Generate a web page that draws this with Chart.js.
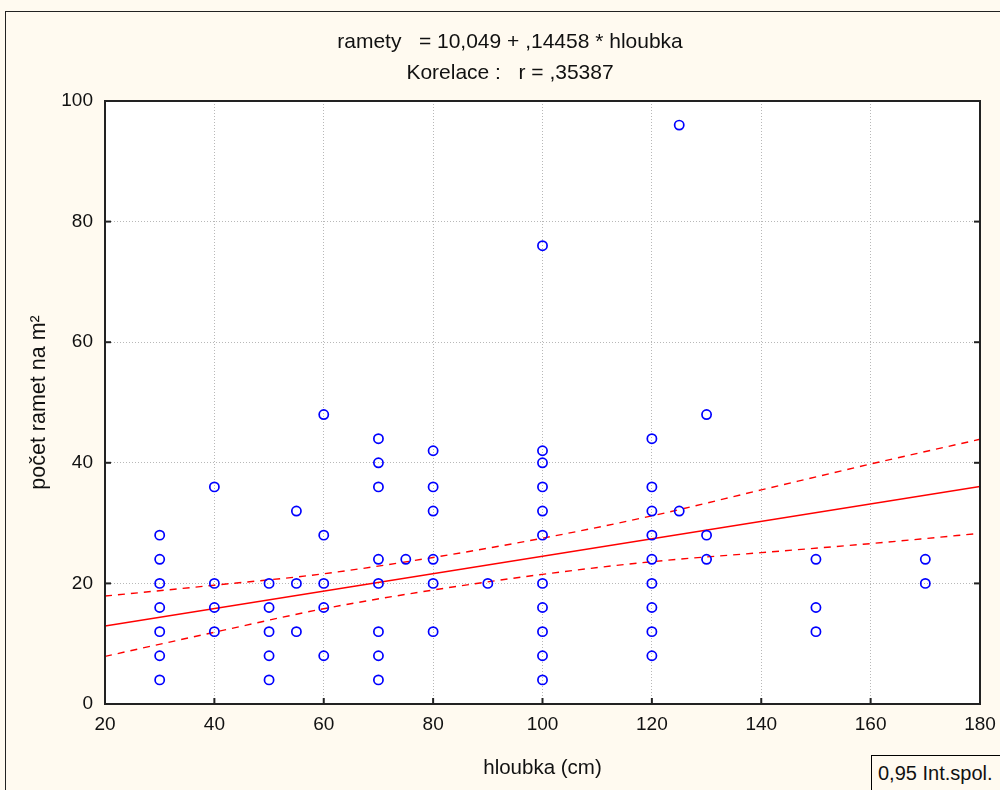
<!DOCTYPE html>
<html><head><meta charset="utf-8">
<script src="https://cdn.jsdelivr.net/npm/chart.js@4.4.1/dist/chart.umd.min.js"></script>
<style>
html,body{margin:0;padding:0;background:#FFFAF0;}
#wrap{position:relative;width:1000px;height:790px;overflow:hidden;background:#FFFAF0;}
#frame{position:absolute;left:5px;top:11px;width:1100px;height:900px;border:1px solid #222;box-sizing:border-box;}
#c{position:absolute;left:0;top:0;}
#leg{position:absolute;left:871px;top:755px;width:200px;height:60px;border:1px solid #000;box-sizing:border-box;font:20px "Liberation Sans",Arial,sans-serif;color:#111;padding:6px 0 0 6px;background:#FFFAF0;}
</style></head>
<body>
<div id="wrap">
<div id="frame"></div>
<canvas id="c" width="1000" height="790"></canvas>
<div id="leg">0,95 Int.spol.</div>
</div>
<script>
// ---- data ----
const hloubka = [30,30,30,30,30,30,30, 40,40,40,40, 50,50,50,50,50, 55,55,55, 60,60,60,60,60,
  70,70,70,70,70,70,70,70, 75, 80,80,80,80,80,80, 90,
  100,100,100,100,100,100,100,100,100,100,100,
  120,120,120,120,120,120,120,120,120, 125,125, 130,130,130, 150,150,150, 170,170];
const ramety = [28,24,20,16,12,8,4, 36,20,16,12, 20,16,12,8,4, 32,20,12, 48,28,20,16,8,
  44,40,36,24,20,12,8,4, 24, 42,36,32,24,20,12, 20,
  76,42,40,36,32,28,20,16,12,8,4,
  44,36,32,28,24,20,16,12,8, 96,32, 48,28,24, 24,16,12, 24,20];
const fitX = [20, 180];
const fitY = [12.94, 36.07];
const bandX = [20, 40, 60, 80, 100, 120, 140, 160, 180];
const bandUpper = [17.9, 19.7, 21.6, 24.3, 27.5, 31.2, 35.5, 39.8, 43.9];
const bandLower = [7.9, 11.9, 15.8, 18.9, 21.5, 23.6, 25.1, 26.6, 28.3];
const xTicks = [20, 40, 60, 80, 100, 120, 140, 160, 180];
const yTicks = [0, 20, 40, 60, 80, 100];
const titleLines = ['ramety   = 10,049 + ,14458 * hloubka', 'Korelace :   r = ,35387'];
const xTitle = 'hloubka (cm)';
const yTitle = 'počet ramet na m²';

const FONT = '"Liberation Sans", Arial, sans-serif';
const pts = hloubka.map((x, i) => ({x: x, y: ramety[i]}));
const fit = fitX.map((x, i) => ({x: x, y: fitY[i]}));
const up = bandX.map((x, i) => ({x: x, y: bandUpper[i]}));
const lo = bandX.map((x, i) => ({x: x, y: bandLower[i]}));

const deco = {
  id: 'deco',
  beforeDraw(chart) {
    const {ctx, chartArea: a} = chart;
    ctx.save();
    ctx.fillStyle = '#ffffff';
    ctx.fillRect(a.left, a.top, a.right - a.left, a.bottom - a.top);
    ctx.restore();
  },
  afterDraw(chart) {
    const {ctx, chartArea: a, scales} = chart;
    ctx.save();
    ctx.fillStyle = '#111';
    ctx.font = '21px ' + FONT;
    ctx.textAlign = 'center';
    ctx.textBaseline = 'middle';
    ctx.fillText(titleLines[0], 510, 42);
    ctx.fillText(titleLines[1], 510, 73);
    ctx.strokeStyle = '#222';
    ctx.lineWidth = 2;
    ctx.strokeRect(a.left, a.top, a.right - a.left, a.bottom - a.top);
    scales.x.ticks.forEach(t => {
      const px = scales.x.getPixelForValue(t.value);
      ctx.beginPath(); ctx.moveTo(px, a.bottom); ctx.lineTo(px, a.bottom - 6); ctx.stroke();
    });
    scales.y.ticks.forEach(t => {
      const py = scales.y.getPixelForValue(t.value);
      ctx.beginPath(); ctx.moveTo(a.left, py); ctx.lineTo(a.left + 6, py); ctx.stroke();
      ctx.beginPath(); ctx.moveTo(a.right, py); ctx.lineTo(a.right - 6, py); ctx.stroke();
    });
    ctx.restore();
  }
};

new Chart(document.getElementById('c'), {
  type: 'scatter',
  data: {
    datasets: [
      {label: 'data', data: pts, order: 0, showLine: false,
        pointStyle: 'circle', pointRadius: 4.6, pointBorderWidth: 1.7,
        borderColor: '#0000FF', backgroundColor: 'rgba(0,0,0,0)'},
      {label: 'fit', data: fit, order: 1, showLine: true, pointRadius: 0,
        borderColor: '#FF0000', borderWidth: 1.6},
      {label: 'upper', data: up, order: 1, showLine: true, pointRadius: 0,
        borderColor: '#FF0000', borderWidth: 1.4, borderDash: [7, 6],
        cubicInterpolationMode: 'monotone'},
      {label: 'lower', data: lo, order: 1, showLine: true, pointRadius: 0,
        borderColor: '#FF0000', borderWidth: 1.4, borderDash: [7, 6],
        cubicInterpolationMode: 'monotone'}
    ]
  },
  options: {
    responsive: false,
    animation: false,
    devicePixelRatio: 1,
    layout: {padding: {left: 0, right: 20, top: 101, bottom: 0}},
    plugins: {legend: {display: false}, tooltip: {enabled: false}, title: {display: false}},
    scales: {
      x: {
        type: 'linear', min: 20, max: 180,
        afterBuildTicks: s => { s.ticks = xTicks.map(v => ({value: v})); },
        afterFit: s => { s.height = 86; s.paddingLeft = 0; s.paddingRight = 0; },
        ticks: {color: '#111', font: {family: FONT, size: 19}, padding: 9, maxRotation: 0},
        grid: {color: '#b8b8b8', lineWidth: 1, drawTicks: false},
        border: {display: false, dash: [1, 2]},
        title: {display: true, text: xTitle, color: '#111', font: {family: FONT, size: 20.5}, padding: {top: 0, bottom: 9}}
      },
      y: {
        type: 'linear', min: 0, max: 100,
        afterBuildTicks: s => { s.ticks = yTicks.map(v => ({value: v})); },
        afterFit: s => { s.width = 105; s.paddingTop = 0; s.paddingBottom = 0; },
        ticks: {color: '#111', font: {family: FONT, size: 19}, padding: 12},
        grid: {color: '#b8b8b8', lineWidth: 1, drawTicks: false},
        border: {display: false, dash: [1, 2]},
        title: {display: true, text: yTitle, color: '#111', font: {family: FONT, size: 21.5}, padding: {top: 26, bottom: 0}}
      }
    }
  },
  plugins: [deco]
});
</script>
</body></html>
